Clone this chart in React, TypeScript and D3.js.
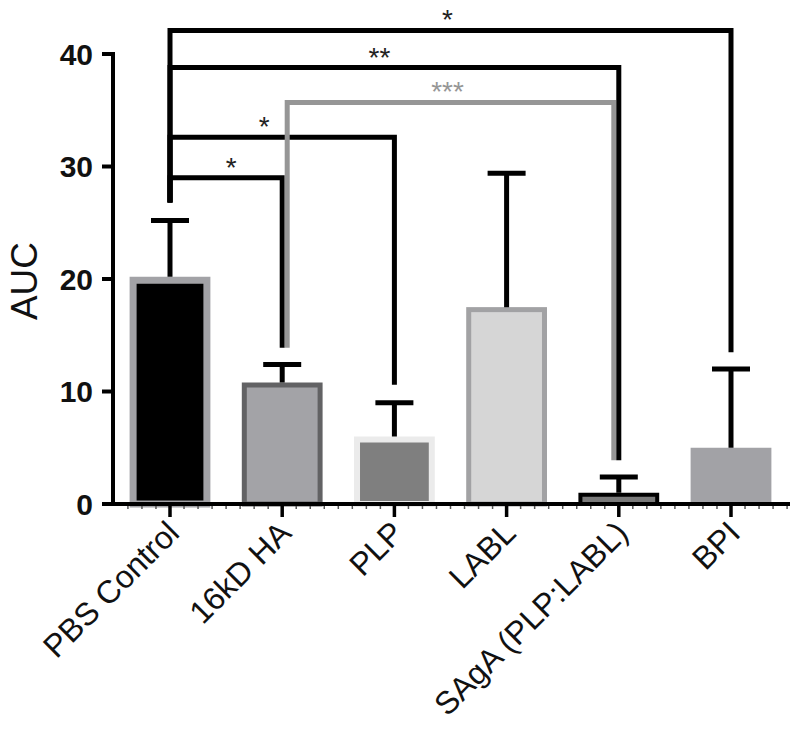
import React from "react";
import * as d3 from "d3";

const categories = ["PBS Control", "16kD HA", "PLP", "LABL", "SAgA (PLP:LABL)", "BPI"];
const means = [20.2, 10.8, 6.0, 17.5, 1.0, 5.0];
const errors = [5.0, 1.6, 3.0, 11.9, 1.4, 7.0];
const yTicks = [0, 10, 20, 30, 40];

const compFrom = ["PBS Control", "PBS Control", "16kD HA", "PBS Control", "PBS Control"];
const compTo = ["16kD HA", "PLP", "SAgA (PLP:LABL)", "SAgA (PLP:LABL)", "BPI"];
const compLevel = [29.0, 32.6, 35.7, 38.8, 42.1];
const compFromEnd = [26.8, 26.8, 13.9, 26.8, 26.8];
const compToEnd = [13.9, 10.6, 3.9, 3.9, 13.5];
const compLabels = ["*", "*", "***", "**", "*"];

// styles
const barFill = ["#000000", "#a3a3a7", "#7f7f7f", "#d6d6d6", "#7a7a7a", "#a2a2a6"];
const barStroke = ["#a2a2a6", "#626264", "#ebebeb", "#a2a2a4", "#000000", "#a2a2a6"];
const barStrokeW = [7, 5, 6, 5, 4, 0];
const compColor = ["#000", "#000", "#969696", "#000", "#000"];
const compInset = [0, 0, 5, 0, 0];
const compLabelDx = [5, -18, -3, -15, -3];

const FONT = "'Liberation Sans', Arial, Helvetica, sans-serif";

export default function App() {
  const W = 800, H = 740;
  const x = d3.scalePoint<string>().domain(categories).range([170, 731]).padding(0);
  const step = x.step();
  const bw = step * 0.72;
  const y = d3.scaleLinear().domain([0, 40]).range([504, 54]);
  const axisX0 = 113;
  const axisX1 = 790;
  const minorTicks: number[] = [];
  const first = x(categories[0])!;
  for (let k = -8; k <= 8 * 6; k++) {
    const px = first + (k * step) / 8;
    if (px > axisX0 + 2 && px < axisX1 - 2 && k % 8 !== 0) minorTicks.push(px);
  }

  return (
    <svg width={W} height={H} style={{ position: "absolute", left: 0, top: 0, background: "#fff" }} fontFamily={FONT}>
      <rect x={0} y={0} width={W} height={H} fill="#fff" />
      {/* bars */}
      {categories.map((c, i) => {
        const cx = x(c)!;
        const sw = barStrokeW[i];
        const top = y(means[i]);
        return (
          <rect
            key={c}
            x={cx - bw / 2 + sw / 2}
            y={top + sw / 2}
            width={bw - sw}
            height={y(0) - top - sw / 2}
            fill={barFill[i]}
            stroke={sw > 0 ? barStroke[i] : "none"}
            strokeWidth={sw}
          />
        );
      })}
      {/* error bars */}
      {categories.map((c, i) => {
        const cx = x(c)!;
        const yt = y(means[i] + errors[i]);
        return (
          <g key={"e" + c} stroke="#000" strokeWidth={5}>
            <line x1={cx} x2={cx} y1={y(means[i])} y2={yt} />
            <line x1={cx - 19} x2={cx + 19} y1={yt} y2={yt} />
          </g>
        );
      })}
      {/* significance brackets */}
      {compFrom.map((f, i) => {
        const x1 = x(f)! + compInset[i];
        const x2 = x(compTo[i])! - compInset[i];
        const yl = y(compLevel[i]);
        const d = `M${x1},${y(compFromEnd[i])}V${yl}H${x2}V${y(compToEnd[i])}`;
        return (
          <g key={"c" + i}>
            <path d={d} fill="none" stroke={compColor[i]} strokeWidth={5} strokeLinejoin="miter" />
            <text
              x={(x1 + x2) / 2 + compLabelDx[i]}
              y={yl - 1}
              textAnchor="middle"
              fontSize={28}
              fill={compColor[i] === "#000" ? "#222" : compColor[i]}
            >
              {compLabels[i]}
            </text>
          </g>
        );
      })}
      {/* y axis */}
      <line x1={axisX0} x2={axisX0} y1={y(40) - 2} y2={y(0) + 2} stroke="#000" strokeWidth={4} />
      {yTicks.map((t) => (
        <g key={"t" + t}>
          <line x1={axisX0 - 11} x2={axisX0} y1={y(t)} y2={y(t)} stroke="#000" strokeWidth={4} />
          <text x={93} y={y(t)} dy="0.36em" textAnchor="end" fontSize={30} fontWeight="bold" fill="#111">
            {t}
          </text>
        </g>
      ))}
      <text transform={`translate(37,281) rotate(-90)`} textAnchor="middle" fontSize={37} fill="#111">
        AUC
      </text>
      {/* x axis */}
      <line x1={axisX0 - 2} x2={axisX1} y1={y(0)} y2={y(0)} stroke="#000" strokeWidth={4} />
      {minorTicks.map((px, i) => (
        <line key={"m" + i} x1={px} x2={px} y1={y(0) + 2} y2={y(0) + 5} stroke="#555" strokeWidth={1.5} />
      ))}
      {categories.map((c) => {
        const cx = x(c)!;
        return (
          <g key={"x" + c}>
            <line x1={cx} x2={cx} y1={y(0)} y2={y(0) + 13} stroke="#000" strokeWidth={3.5} />
            <text
              transform={`translate(${cx + 11},${y(0) + 31}) rotate(-45)`}
              textAnchor="end"
              fontSize={32}
              fill="#111"
            >
              {c}
            </text>
          </g>
        );
      })}
    </svg>
  );
}
